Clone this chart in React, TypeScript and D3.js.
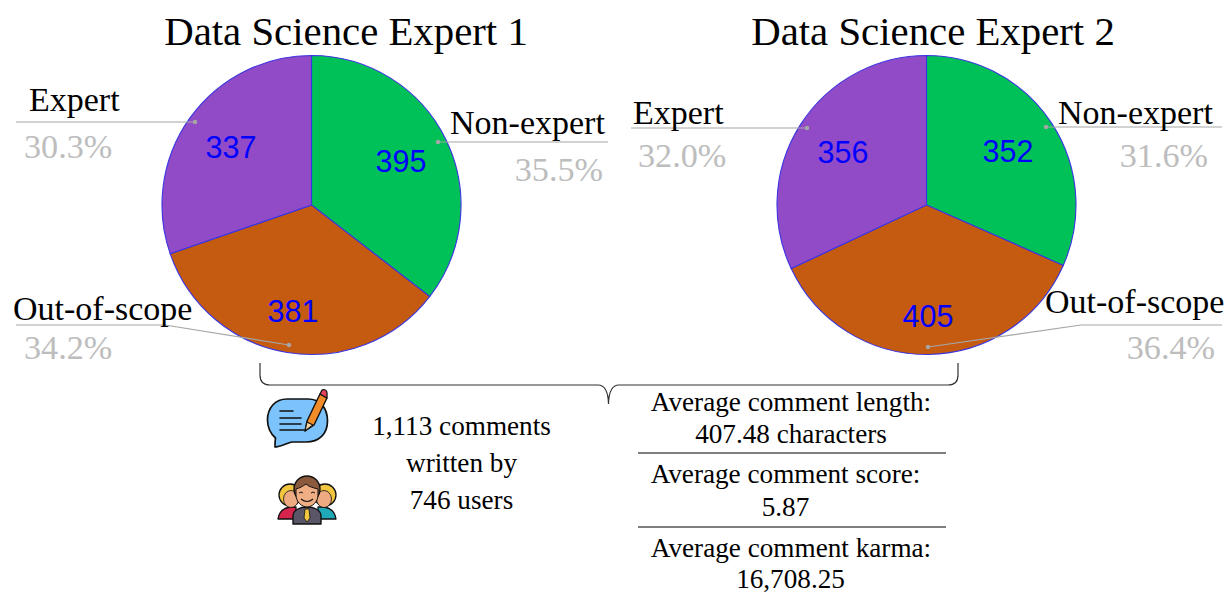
import React from "react";
import * as d3 from "d3";

const categories = ["Non-expert", "Out-of-scope", "Expert"];
const colors = ["#00c158", "#c55a11", "#914bc7"];
const expert1Values = [395, 381, 337];
const expert2Values = [352, 405, 356];
const expert1Pct = ["35.5%", "34.2%", "30.3%"];
const expert2Pct = ["31.6%", "36.4%", "32.0%"];
const commentLines = ["1,113 comments", "written by", "746 users"];
const statLines = [
  ["Average comment length:", "407.48 characters"],
  ["Average comment score:", "5.87"],
  ["Average comment karma:", "16,708.25"],
];

const SERIF = "'Liberation Serif', 'Times New Roman', serif";
const SANS = "'Liberation Sans', Arial, sans-serif";
const R = 149.5;

type Callout = {
  line: [number, number][];
  name: [number, number];
  pct: [number, number];
  anchor: string;
  valueAt: [number, number];
};

const pie1Layout: Callout[] = [
  { line: [[438, 142], [608, 142]], name: [450, 134], pct: [603, 181], anchor: "end", valueAt: [401, 172] },
  { line: [[289, 345], [165, 325], [16, 325]], name: [13, 320], pct: [24, 359], anchor: "start", valueAt: [293, 322] },
  { line: [[195, 122], [16, 122]], name: [29, 111], pct: [24, 158], anchor: "start", valueAt: [231, 158] },
];
const pie2Layout: Callout[] = [
  { line: [[1046, 127], [1222, 127]], name: [1058, 124], pct: [1208, 167], anchor: "end", valueAt: [1008, 162] },
  { line: [[928, 347], [1081, 325], [1222, 325]], name: [1045, 313], pct: [1215, 359], anchor: "end", valueAt: [928, 327] },
  { line: [[807, 128], [631, 128]], name: [633, 124], pct: [638, 167], anchor: "start", valueAt: [843, 163] },
];

function Pie({ cx, cy, values, pcts, layout, title, titleX }: {
  cx: number; cy: number; values: number[]; pcts: string[]; layout: Callout[]; title: string; titleX: number;
}) {
  const arcs = d3.pie<number>().sort(null)(values);
  const arc = d3.arc<d3.PieArcDatum<number>>().innerRadius(0).outerRadius(R);
  const lineGen = d3.line();
  return (
    <g>
      <text x={titleX} y={45} textAnchor="middle" fontFamily={SERIF} fontSize={40.8} fill="#000">{title}</text>
      <g transform={`translate(${cx},${cy})`}>
        {arcs.map((a, i) => (
          <path key={i} d={arc(a) ?? ""} fill={colors[i]} stroke="#3a35e0" strokeWidth={1.1} />
        ))}
      </g>
      {layout.map((c, i) => (
        <g key={i}>
          <path d={lineGen(c.line) ?? ""} fill="none" stroke="#a6a6a6" strokeWidth={1.2} />
          <circle cx={c.line[0][0]} cy={c.line[0][1]} r={2.2} fill="#a6a6a6" />
          <text x={c.name[0]} y={c.name[1]} fontFamily={SERIF} fontSize={34} fill="#000">{categories[i]}</text>
          <text x={c.pct[0]} y={c.pct[1]} textAnchor={c.anchor} fontFamily={SERIF} fontSize={34.2} fill="#bdbdbd">{pcts[i]}</text>
          <text x={c.valueAt[0]} y={c.valueAt[1]} textAnchor="middle" fontFamily={SANS} fontSize={30.5} fill="#0000ff">{values[i]}</text>
        </g>
      ))}
    </g>
  );
}

function CommentIcon() {
  return (
    <g strokeLinejoin="round" strokeLinecap="round">
      <path d="M287 399 H308 C320 399 327.5 408 327.5 421 C327.5 434 319 442 306 442 H292 C287 443 280 447 275 447 C275 444 275 441 275.5 438 C270 433 267.5 427 267.5 420 C267.5 408 275 399 287 399 Z"
        fill="#7cc2fb" stroke="#111" strokeWidth={1.7} />
      <path d="M280 411 H293 M280 418 H301 M280 424 H301 M280 430 H304" stroke="#111" strokeWidth={1.6} fill="none" />
      <path d="M305 431 L307 421 L320 394 L327 398 L314 425 Z" fill="#f28c28" stroke="#111" strokeWidth={1.4} />
      <path d="M320 394 L322 390 C324 389 327 390 327 393 L327 398 Z" fill="#e8445a" stroke="#111" strokeWidth={1.3} />
      <path d="M305 431 L307 422 L313 425 Z" fill="#f4d6a0" stroke="#111" strokeWidth={1.1} />
    </g>
  );
}

function PeopleIcon() {
  return (
    <g strokeLinejoin="round">
      <path d="M278 519 C279 511 284 508 290 507 H296 V519 Z" fill="#d6244c" stroke="#111" strokeWidth={1.3} />
      <path d="M336 519 C335 511 330 508 324 507 H318 V519 Z" fill="#1fa8b8" stroke="#111" strokeWidth={1.3} />
      <circle cx={290} cy={495} r={11} fill="#f3c640" stroke="#111" strokeWidth={1.3} />
      <circle cx={325} cy={495} r={11} fill="#f3c640" stroke="#111" strokeWidth={1.3} />
      <ellipse cx={291} cy={499} rx={7.5} ry={8.5} fill="#eeaa80" stroke="#111" strokeWidth={0.8} />
      <ellipse cx={324} cy={499} rx={7.5} ry={8.5} fill="#eeaa80" stroke="#111" strokeWidth={0.8} />
      <path d="M293 524 V516 C293 510 300 507 307 507 C314 507 321 510 321 516 V524 Z" fill="#5b5568" stroke="#111" strokeWidth={1.4} />
      <path d="M305 509 H309 L310 518 L307 522 L304 518 Z" fill="#f3c640" stroke="#111" strokeWidth={0.8} />
      <circle cx={307} cy={489} r={13} fill="#8b5a3c" stroke="#111" strokeWidth={1.4} />
      <path d="M296 489 C300 488 303 486 306 484 C309 487 314 488 318 489 V495 C318 502 312 507 307 507 C302 507 296 502 296 495 Z" fill="#f0ae84" stroke="#111" strokeWidth={1} />
      <path d="M301 499 Q307 504 313 499" fill="none" stroke="#111" strokeWidth={1.2} />
      <path d="M299 493 Q301 491 303 493 M311 493 Q313 491 315 493" fill="none" stroke="#111" strokeWidth={1} />
    </g>
  );
}

export default function App() {
  const statY = [411, 443, 483, 516, 557, 588];
  const statX = [791, 791, 785.5, 785.5, 791, 790.5];
  return (
    <svg width={1228} height={593} style={{ position: "absolute", left: 0, top: 0, background: "#fff" }}>
      <Pie cx={311.5} cy={205} values={expert1Values} pcts={expert1Pct} layout={pie1Layout} title="Data Science Expert 1" titleX={346} />
      <Pie cx={926.5} cy={205} values={expert2Values} pcts={expert2Pct} layout={pie2Layout} title="Data Science Expert 2" titleX={933} />

      <path d="M260 363 V375 Q260 385 270 385 H598 Q608 385 608.5 404 Q609 385 619 385 H948 Q958 385 958 375 V363"
        fill="none" stroke="#333" strokeWidth={1.2} />

      <CommentIcon />
      <PeopleIcon />

      {commentLines.map((t, i) => (
        <text key={t} x={461.5} y={435 + i * 37} textAnchor="middle" fontFamily={SERIF} fontSize={27.2} fill="#000">{t}</text>
      ))}

      {statLines.flat().map((t, i) => (
        <text key={t} x={statX[i]} y={statY[i]} textAnchor="middle" fontFamily={SERIF} fontSize={27.2} fill="#000">{t}</text>
      ))}
      <line x1={638} x2={946} y1={453} y2={453} stroke="#000" strokeWidth={1} />
      <line x1={638} x2={946} y1={527} y2={527} stroke="#000" strokeWidth={1} />
    </svg>
  );
}
